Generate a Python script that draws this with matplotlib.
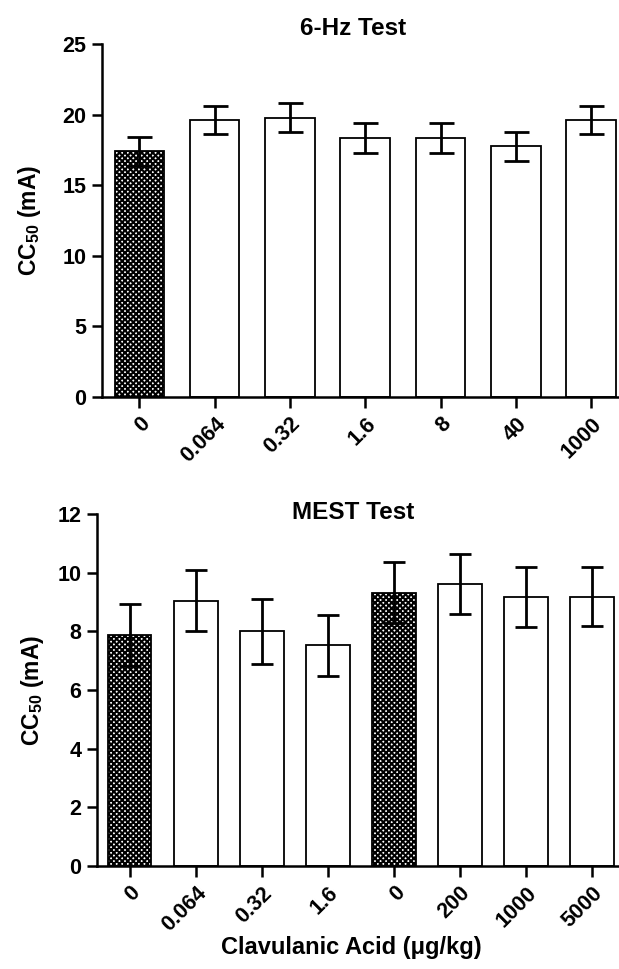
"""
Clavulanic acid CC50 bar charts (6-Hz and MEST tests)
"""

import matplotlib
matplotlib.use("Agg")
import matplotlib.pyplot as plt
import numpy as np

# ── Data ────────────────────────────────────────
hz_labels = ["0", "0.064", "0.32", "1.6", "8", "40", "1000"]
hz_means  = [17.4, 19.65, 19.8, 18.35, 18.35, 17.75, 19.65]
hz_errs   = [1.0, 1.0, 1.05, 1.05, 1.05, 1.05, 1.0]
hz_ctrl   = [True, False, False, False, False, False, False]

mest_labels = ["0", "0.064", "0.32", "1.6", "0", "200", "1000", "5000"]
mest_means  = [7.88, 9.05, 8.0, 7.52, 9.32, 9.62, 9.18, 9.18]
mest_errs   = [1.05, 1.03, 1.1, 1.03, 1.04, 1.02, 1.02, 1.0]
mest_ctrl   = [True, False, False, False, True, False, False, False]
# ────────────────────────────────────────────────

FONT = "Liberation Sans"
plt.rcParams["font.family"] = FONT
plt.rcParams["font.weight"] = "bold"
plt.rcParams["mathtext.fontset"] = "custom"
plt.rcParams["mathtext.rm"] = FONT + ":bold"
plt.rcParams["mathtext.bf"] = FONT + ":bold"
plt.rcParams["hatch.linewidth"] = 1.5

TICK_FS = 15.5
LABEL_FS = 16.5
TITLE_FS = 17.5

fig = plt.figure(figsize=(6.19, 9.69), dpi=100)

ax1 = fig.add_axes([0.1643, 0.5906, 0.8357, 0.3637])
ax2 = fig.add_axes([0.1562, 0.1063, 0.8438, 0.3633])


def draw_panel(ax, labels, means, errs, ctrl, ymax, ystep, title, title_xy,
               xmax, capsize, label_x):
    x = np.arange(len(labels))
    for xi, m, e, c in zip(x, means, errs, ctrl):
        ax.bar(xi, m, width=0.66, color="white", edgecolor="black",
               linewidth=1.3, hatch="xxxxxx" if c else None, zorder=2)
        ax.errorbar(xi, m, yerr=e, fmt="none", ecolor="black",
                    elinewidth=2.0, capsize=capsize, capthick=2.0, zorder=3)

    ax.set_xlim(-0.5, xmax)
    ax.set_ylim(0, ymax)
    ax.set_yticks(np.arange(0, ymax + 0.01, ystep))
    ax.set_xticks(x)
    ax.set_xticklabels(labels, rotation=45, ha="right", va="top",
                       rotation_mode="anchor", fontsize=TICK_FS,
                       fontweight="bold")
    for lab in ax.get_yticklabels():
        lab.set_fontsize(TICK_FS)
        lab.set_fontweight("bold")

    ax.spines["top"].set_visible(False)
    ax.spines["right"].set_visible(False)
    ax.spines["left"].set_linewidth(1.8)
    ax.spines["bottom"].set_linewidth(1.8)
    ax.tick_params(axis="both", direction="out", length=7, width=1.8, pad=4)
    ax.tick_params(axis="x", length=8, pad=4)

    ax.set_ylabel(r"CC$_{\mathbf{50}}$ (mA)", fontsize=LABEL_FS,
                  fontweight="bold")
    ax.yaxis.set_label_coords(label_x, 0.5)

    ax.text(title_xy[0], title_xy[1], title, transform=ax.transAxes,
            ha="center", va="baseline", fontsize=TITLE_FS, fontweight="bold")


draw_panel(ax1, hz_labels, hz_means, hz_errs, hz_ctrl, 25, 5,
           "6-Hz Test", (0.486, 1.025), 6.37, 9, -0.113)
draw_panel(ax2, mest_labels, mest_means, mest_errs, mest_ctrl, 12, 2,
           "MEST Test", (0.491, 0.985), 7.41, 8, -0.098)

fig.text(0.567, 0.022, "Clavulanic Acid (\u03bcg/kg)", ha="center",
         va="center", fontsize=17, fontweight="bold")

fig.savefig("out.png", dpi=100)
